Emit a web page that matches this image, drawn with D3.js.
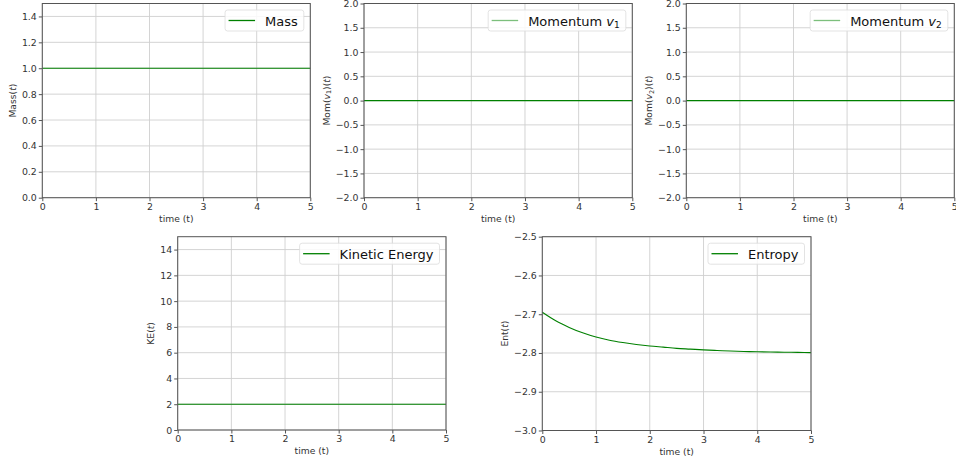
<!DOCTYPE html>
<html>
<head>
<meta charset="utf-8">
<script src="https://cdn.jsdelivr.net/npm/d3@7"></script>
<style>
  body { margin: 0; background: #fff; }
  svg { display: block; font-family: "DejaVu Sans", sans-serif; }
  .tick text { fill: #333; font-size: 9.4px; font-family: "DejaVu Sans", sans-serif; }
  .tick line { stroke: #555; }
  .domain { stroke: none; }
  .grid line { stroke: #cfcfcf; stroke-width: 0.9; }
  .spine { fill: none; stroke: #555; stroke-width: 1; }
  .axlabel { fill: #333; font-size: 9.2px; }
  .legend text { font-size: 13px; fill: #111; }
</style>
</head>
<body>
<svg id="chart" width="956" height="462"></svg>
<script>
//

const times = [0, 0.25, 0.5, 0.75, 1, 1.25, 1.5, 1.75, 2, 2.25, 2.5, 2.75, 3, 3.25, 3.5, 3.75, 4, 4.25, 4.5, 4.75, 5]
const massValues = times.map(() => 1.0)
const mom1Values = times.map(() => 0.0)
const mom2Values = times.map(() => 0.0)
const keValues = times.map(() => 2.0)
const entropyValues = [-2.695, -2.717, -2.734, -2.748, -2.759, -2.767, -2.773, -2.778, -2.782, -2.785,
  -2.788, -2.790, -2.792, -2.7935, -2.795, -2.796, -2.797, -2.7975, -2.798, -2.7985, -2.799]

const xTicks = [0, 1, 2, 3, 4, 5]
const massTicks = [0, 0.2, 0.4, 0.6, 0.8, 1.0, 1.2, 1.4]
const momTicks = [-2.0, -1.5, -1.0, -0.5, 0.0, 0.5, 1.0, 1.5, 2.0]
const keTicks = [0, 2, 4, 6, 8, 10, 12, 14]
const entTicks = [-3.0, -2.9, -2.8, -2.7, -2.6, -2.5]

//

const panels = [
  {box: [42.3, 3.5, 310.3, 197.7], yDomain: [0, 1.5], yTicks: massTicks, fmt: '.1f', values: massValues,
    label: ['Mass(', 't', ')'], labelDx: 30, legend: {name: 'Mass'}, legendColor: 'green'},
  {box: [364, 3.5, 632.3, 197.7], yDomain: [-2, 2], yTicks: momTicks, fmt: '.1f', values: mom1Values,
    label: 'mom1', labelDx: 38, legend: {name: 'Momentum ', sub: '1'}, legendColor: '#7cbf7c'},
  {box: [686.3, 3.5, 954.3, 197.7], yDomain: [-2, 2], yTicks: momTicks, fmt: '.1f', values: mom2Values,
    label: 'mom2', labelDx: 38, legend: {name: 'Momentum ', sub: '2'}, legendColor: '#7cbf7c'},
  {box: [177.7, 236.7, 446, 430], yDomain: [0, 15], yTicks: keTicks, fmt: 'd', values: keValues,
    label: ['KE(', 't', ')'], labelDx: 27, legend: {name: 'Kinetic Energy'}, legendColor: 'green'},
  {box: [542.3, 236.7, 811, 430.5], yDomain: [-3, -2.5], yTicks: entTicks, fmt: '.1f', values: entropyValues,
    label: ['Ent(', 't', ')'], labelDx: 38, legend: {name: 'Entropy'}, legendColor: 'green'}
]

const svg = d3.select('#chart')

panels.forEach((p) => {
  const [x0, y0, x1, y1] = p.box
  const x = d3.scaleLinear().domain([0, 5]).range([x0, x1])
  const y = d3.scaleLinear().domain(p.yDomain).range([y1, y0])
  const g = svg.append('g')

  // grid
  const grid = g.append('g').attr('class', 'grid')
  grid.selectAll('.gx').data(xTicks).join('line')
    .attr('x1', (d) => x(d)).attr('x2', (d) => x(d)).attr('y1', y0).attr('y2', y1)
  grid.selectAll('.gy').data(p.yTicks).join('line')
    .attr('x1', x0).attr('x2', x1).attr('y1', (d) => y(d)).attr('y2', (d) => y(d))

  // data line
  const line = d3.line().x((d, i) => x(times[i])).y((d) => y(d)).curve(d3.curveMonotoneX)
  g.append('path').datum(p.values)
    .attr('fill', 'none').attr('stroke', 'green').attr('stroke-width', 1.1)
    .attr('d', line)

  // axes
  g.append('g').attr('transform', `translate(0,${y1})`)
    .call(d3.axisBottom(x).tickValues(xTicks).tickFormat(d3.format('d')).tickSize(3.5).tickPadding(2))
  g.append('g').attr('transform', `translate(${x0},0)`)
    .call(d3.axisLeft(y).tickValues(p.yTicks).tickFormat(d3.format(p.fmt)).tickSize(3.5).tickPadding(2))

  g.append('rect').attr('class', 'spine')
    .attr('x', x0).attr('y', y0).attr('width', x1 - x0).attr('height', y1 - y0)

  // axis labels
  g.append('text').attr('class', 'axlabel').attr('text-anchor', 'middle')
    .attr('x', (x0 + x1) / 2).attr('y', y1 + 24)
    .text('time (t)')

  const yl = g.append('text').attr('class', 'axlabel').attr('text-anchor', 'middle')
    .attr('transform', `translate(${x0 - p.labelDx + 3.5},${(y0 + y1) / 2}) rotate(-90)`)
  if (Array.isArray(p.label)) {
    yl.append('tspan').text(p.label[0])
    yl.append('tspan').attr('font-style', 'italic').text(p.label[1])
    yl.append('tspan').text(p.label[2])
  } else {
    const n = p.label === 'mom1' ? '1' : '2'
    yl.append('tspan').text('Mom(')
    yl.append('tspan').attr('font-style', 'italic').text('v')
    yl.append('tspan').attr('font-size', '6.5px').attr('dy', 1.8).text(n)
    yl.append('tspan').attr('dy', -1.8).text(')(')
    yl.append('tspan').attr('font-style', 'italic').text('t')
    yl.append('tspan').text(')')
  }

  // legend
  const lg = g.append('g').attr('class', 'legend')
  const box = lg.append('rect')
  const lt = lg.append('text')
  lt.append('tspan').text(p.legend.name)
  if (p.legend.sub) {
    lt.append('tspan').attr('font-style', 'italic').text('v')
    lt.append('tspan').attr('font-size', '9px').attr('dy', 2.5).text(p.legend.sub)
  }
  const lw = lt.node().getComputedTextLength() + 46
  const lx = x1 - 6.5 - lw
  const ly = y0 + 6.5
  lt.attr('x', lx + 40).attr('y', ly + 15.5)
  box.attr('x', lx).attr('y', ly).attr('width', lw).attr('height', 21)
    .attr('rx', 2.5).attr('fill', 'rgba(255,255,255,0.85)').attr('stroke', '#dcdcdc').attr('stroke-width', 0.8)
  lg.append('line').attr('x1', lx + 3.5).attr('x2', lx + 30).attr('y1', ly + 10.5).attr('y2', ly + 10.5)
    .attr('stroke', p.legendColor).attr('stroke-width', 1.3)
})
</script>
</body>
</html>
